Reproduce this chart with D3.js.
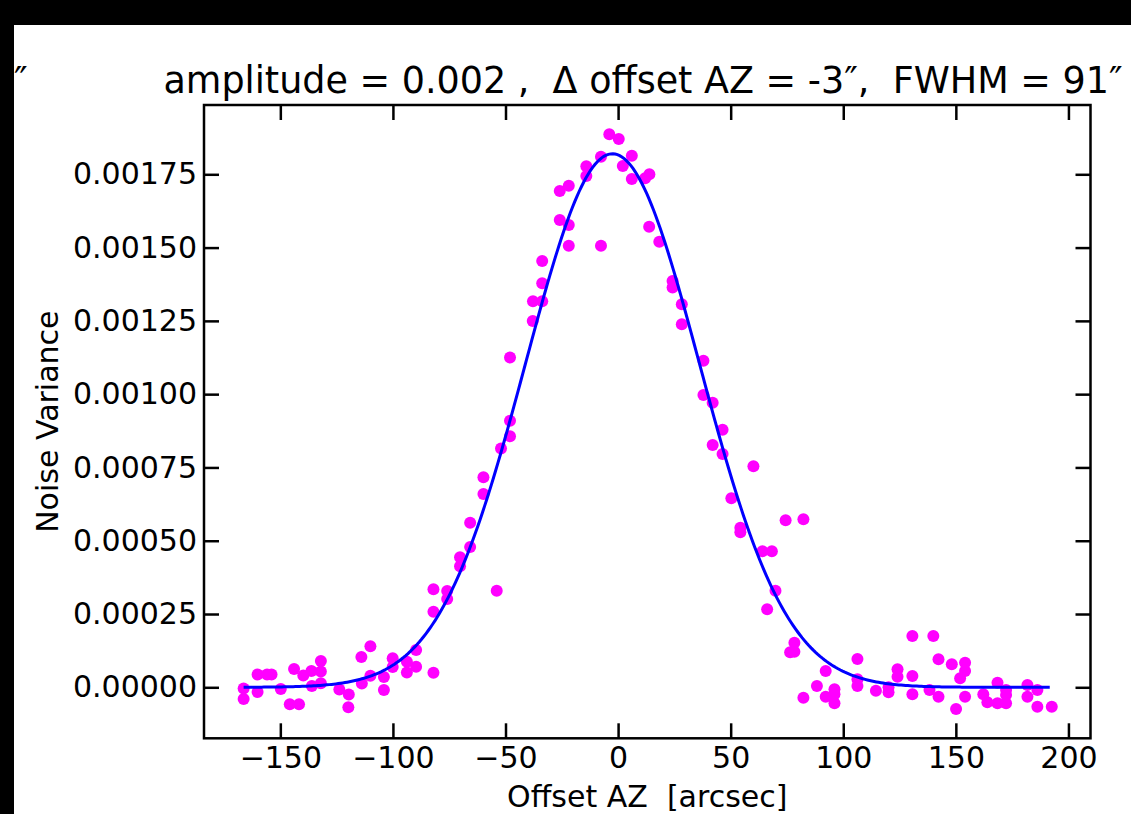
<!DOCTYPE html>
<html>
<head>
<meta charset="utf-8">
<script src="https://d3js.org/d3.v7.min.js"></script>
<style>
  body { margin: 0; background: #fff; }
  svg { display: block; font-family: "DejaVu Sans", sans-serif; }
</style>
</head>
<body>
<div id="chart"></div>
<script>
// measured points (offset in arcsec, noise variance)
var offsetAZ = [
  -166.3, -166.3, -160.1, -160.1, -155.9, -153.9, -149.8, -143.9, -145.8, -141.7,
  -139.8, -136.2, -136.0, -132.0, -132.0, -132.0, -123.8, -119.6, -119.8, -114.0,
  -110.0, -113.8, -110.0, -104.0, -104.0, -100.1, -100.1, -93.8, -93.8, -89.7,
  -89.7, -82.0, -82.0, -82.0, -75.9, -75.9, -70.2, -70.2, -65.7, -65.7,
  -59.8, -59.8, -53.9, -52.0, -48.0, -48.0, -48.0, -37.9, -37.8, -33.7,
  -33.7, -33.7, -25.9, -25.9, -21.9, -21.9, -21.9, -14.1, -14.1, -7.6,
  -7.6, -3.9, 0.3, 2.1, 6.1, 6.1, 12.0, 13.9, 13.8, 18.3,
  24.2, 24.2, 28.3, 28.3, 37.9, 37.9, 42.0, 46.4, 42.0, 46.4,
  60.1, 50.3, 54.3, 54.3, 74.4, 82.3, 64.1, 68.3, 69.9, 66.2,
  78.3, 76.4, 78.3, 82.3, 88.3, 92.2, 92.2, 96.1, 96.1, 96.1,
  106.3, 106.3, 106.3, 114.5, 120.1, 120.1, 124.1, 124.1, 130.7, 130.7,
  130.7, 138.3, 140.0, 142.3, 142.3, 148.2, 150.1, 154.1, 154.1, 151.9,
  154.1, 162.2, 164.0, 168.5, 168.5, 172.3, 172.3, 172.3, 181.8, 181.8,
  186.2, 186.2, 192.6
];
var noiseVar = [
  -0.41e-5, -3.99e-5, 4.37e-5, -1.60e-5, 4.37e-5, 4.37e-5, -0.58e-5, 6.24e-5, -5.80e-5, -5.80e-5,
  4.03e-5, 5.56e-5, 0.44e-5, 8.97e-5, 5.39e-5, 1.36e-5, -0.75e-5, -2.46e-5, -6.82e-5, 10.34e-5,
  13.99e-5, 1.30e-5, 3.96e-5, 3.51e-5, -0.92e-5, 9.89e-5, 6.92e-5, 8.73e-5, 5.05e-5, 12.72e-5,
  7.03e-5, 4.98e-5, 25.79e-5, 33.43e-5, 32.85e-5, 30.12e-5, 44.35e-5, 41.28e-5, 56.15e-5, 47.86e-5,
  71.64e-5, 65.94e-5, 32.95e-5, 81.46e-5, 90.91e-5, 85.62e-5, 112.50e-5, 124.96e-5, 131.68e-5, 131.68e-5,
  137.82e-5, 145.42e-5, 159.41e-5, 169.30e-5, 171.11e-5, 157.70e-5, 150.64e-5, 177.73e-5, 174.42e-5, 181.00e-5,
  150.64e-5, 188.64e-5, 187.04e-5, 177.83e-5, 181.34e-5, 173.39e-5, 173.63e-5, 175.00e-5, 157.13e-5, 152.01e-5,
  138.60e-5, 136.38e-5, 130.65e-5, 123.83e-5, 111.41e-5, 99.71e-5, 97.09e-5, 87.87e-5, 82.66e-5, 79.59e-5,
  75.39e-5, 64.47e-5, 54.44e-5, 52.88e-5, 56.97e-5, 57.34e-5, 46.39e-5, 46.39e-5, 32.95e-5, 26.61e-5,
  15.21e-5, 11.94e-5, 12.14e-5, -3.55e-5, 0.44e-5, 5.56e-5, -3.21e-5, -0.68e-5, -2.39e-5, -5.46e-5,
  9.65e-5, 2.73e-5, 0.44e-5, -1.16e-5, 0.00e-5, -1.71e-5, 6.14e-5, 3.62e-5, 17.50e-5, 3.85e-5,
  -2.39e-5, -0.92e-5, 17.50e-5, 9.55e-5, -3.21e-5, 7.85e-5, -7.40e-5, 8.39e-5, 5.56e-5, 3.07e-5,
  -3.21e-5, -2.39e-5, -5.12e-5, 1.57e-5, -5.46e-5, -0.92e-5, -2.63e-5, -5.46e-5, 0.78e-5, -3.21e-5,
  -0.92e-5, -6.62e-5, -6.62e-5
];

// gaussian fit: amplitude, centre (arcsec), FWHM (arcsec)
var fitParams = [0.00182, -2.5, 91];

var xTicks = [-150, -100, -50, 0, 50, 100, 150, 200];
var yTicks = [0, 0.00025, 0.0005, 0.00075, 0.001, 0.00125, 0.0015, 0.00175];

var titleText = "amplitude = 0.002 ,  \u0394 offset AZ = -3\u2033,  FWHM = 91\u2033";
var xLabel = "Offset AZ  [arcsec]";
var yLabel = "Noise Variance";

var width = 1131, height = 814;
var margin = {top: 105, right: 1131 - 1090.5, bottom: 814 - 738.3, left: 204};

var svg = d3.select("#chart").append("svg")
  .attr("width", width)
  .attr("height", height);

svg.append("rect").attr("width", width).attr("height", height).attr("fill", "#fff");
// black frame of the screenshot
svg.append("rect").attr("x", 0).attr("y", 0).attr("width", width).attr("height", 25).attr("fill", "#000");
svg.append("rect").attr("x", 0).attr("y", 0).attr("width", 14).attr("height", height).attr("fill", "#000");

var x = d3.scaleLinear()
  .domain([-183.9, 209.8])
  .range([margin.left, width - margin.right]);
var y = d3.scaleLinear()
  .domain([-0.000174, 0.0019864])
  .range([height - margin.bottom, margin.top]);

var tickLen = 15;
var fmtY = d3.format(".5f");
var fmtX = function(d) { return d < 0 ? "\u2212" + Math.abs(d) : "" + d; };

function styleAxis(g) {
  g.select(".domain").remove();
  g.selectAll(".tick line").attr("stroke", "#000").attr("stroke-width", 2.5);
  g.selectAll(".tick text").attr("fill", "#000")
    .style("font-family", "DejaVu Sans").style("font-size", "30px");
}

// bottom axis, inward ticks
svg.append("g")
  .attr("transform", "translate(0," + y.range()[0] + ")")
  .call(d3.axisBottom(x).tickValues(xTicks).tickFormat(fmtX).tickSizeInner(-tickLen).tickSizeOuter(0).tickPadding(8))
  .call(styleAxis);
// top axis
svg.append("g")
  .attr("transform", "translate(0," + y.range()[1] + ")")
  .call(d3.axisTop(x).tickValues(xTicks).tickFormat("").tickSizeInner(-tickLen).tickSizeOuter(0))
  .call(styleAxis);
// left axis
svg.append("g")
  .attr("transform", "translate(" + x.range()[0] + ",0)")
  .call(d3.axisLeft(y).tickValues(yTicks).tickFormat(fmtY).tickSizeInner(-tickLen).tickSizeOuter(0).tickPadding(7))
  .call(styleAxis);
// right axis
svg.append("g")
  .attr("transform", "translate(" + x.range()[1] + ",0)")
  .call(d3.axisRight(y).tickValues(yTicks).tickFormat("").tickSizeInner(-tickLen).tickSizeOuter(0))
  .call(styleAxis);

// points
var pts = offsetAZ.map(function(d, i) { return [d, noiseVar[i]]; });
svg.append("g")
  .selectAll("circle")
  .data(pts)
  .enter()
  .append("circle")
  .attr("cx", function(d) { return x(d[0]); })
  .attr("cy", function(d) { return y(d[1]); })
  .attr("r", 6)
  .attr("fill", "#ff00ff");

// fitted gaussian
var amp = fitParams[0], mu = fitParams[1], sigma = fitParams[2] / (2 * Math.sqrt(2 * Math.log(2)));
var xs = d3.range(d3.min(offsetAZ), d3.max(offsetAZ) + 0.01, 1);
var fit = xs.map(function(v) { return [v, amp * Math.exp(-(v - mu) * (v - mu) / (2 * sigma * sigma))]; });
svg.append("path")
  .datum(fit)
  .attr("fill", "none")
  .attr("stroke", "#0000ff")
  .attr("stroke-width", 3)
  .attr("d", d3.line().x(function(d) { return x(d[0]); }).y(function(d) { return y(d[1]); }));

// frame
svg.append("rect")
  .attr("x", x.range()[0]).attr("y", y.range()[1])
  .attr("width", x.range()[1] - x.range()[0])
  .attr("height", y.range()[0] - y.range()[1])
  .attr("fill", "none").attr("stroke", "#000").attr("stroke-width", 2.5);

// texts
svg.append("text")
  .attr("x", 643)
  .attr("y", 93)
  .attr("text-anchor", "middle")
  .style("font-size", "36.5px")
  .style("white-space", "pre")
  .text(titleText);
// tail of the neighbouring panel's title
svg.append("text")
  .attr("x", 14)
  .attr("y", 93)
  .style("font-size", "36.5px")
  .text("\u2033");

svg.append("text")
  .attr("x", (x.range()[0] + x.range()[1]) / 2)
  .attr("y", 807)
  .attr("text-anchor", "middle")
  .style("font-size", "30px")
  .style("white-space", "pre")
  .text(xLabel);

svg.append("text")
  .attr("transform", "translate(58," + (y.range()[0] + y.range()[1]) / 2 + ") rotate(-90)")
  .attr("text-anchor", "middle")
  .style("font-size", "30px")
  .text(yLabel);
</script>
</body>
</html>
